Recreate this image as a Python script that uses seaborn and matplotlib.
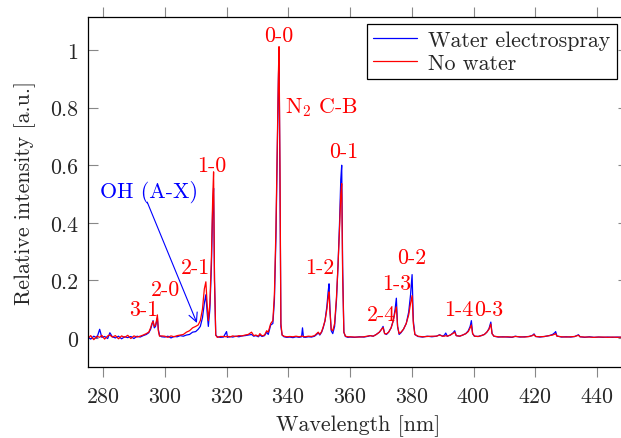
import matplotlib
matplotlib.use("Agg")
import matplotlib.pyplot as plt
import seaborn as sns
import pandas as pd
from matplotlib.ticker import FuncFormatter

## Spectrum values (wavelength in nm, relative intensity)
wavelength = [
    275, 276, 277, 278, 278.9, 279.6, 280.5, 281.5, 282.2, 283, 284, 285, 286, 287, 288, 289, 290, 291, 292, 293, 294,
    294.8, 295.4, 295.8, 296.2, 296.6, 297.0, 297.3, 297.6, 297.9, 298.3, 299,
    300, 301, 302, 303, 304, 305, 306, 307, 308, 309, 310, 310.8, 311.5, 312.2, 312.8, 313.3, 313.7, 314.1, 314.6,
    315.1, 315.5, 315.8, 316.1, 316.5, 317, 318,
    319, 320, 320.3, 321, 322, 323, 324, 325, 326, 327, 328.1, 328.8, 329.5, 330.3, 330.8, 331.5, 332.3, 333, 333.5,
    334.3, 335, 335.5, 336.0, 336.5, 336.8, 337.0, 337.3, 337.6, 338, 338.6, 339.5,
    340.5, 341.5, 342.5, 343.5, 344.3, 344.6, 344.9, 345.5, 346.5, 347.5, 348.5, 349.2, 349.7, 350.2, 350.8, 351.3,
    351.9, 352.5, 352.9, 353.2, 353.5, 353.9, 354.4, 355.0, 355.6, 356.1, 356.6, 357.0, 357.3, 357.6, 358.0, 358.5, 359.3,
    360, 361.5, 363, 364.5, 366, 366.5, 367.5, 368.5, 369.5, 370.2, 370.7, 371.2, 371.8, 372.5, 373.3, 374.0, 374.6,
    375.0, 375.4, 375.9, 376.5, 377.3, 378.2, 379.0, 379.6, 380.1, 380.5, 381.0, 382, 383.5, 385, 386.5, 388, 389,
    390, 390.6, 391.0, 391.5, 392.5, 393.4, 393.9, 394.4, 395.5, 396.5, 397.5, 398.3, 398.9, 399.3, 399.7, 400.3,
    401.5, 402.5, 403.5, 404.3, 405.0, 405.6, 406.0, 406.6, 408, 409.5,
    411, 412.5, 413.5, 415, 416.5, 418, 419.1, 419.6, 420.1, 421.5, 423, 424.5, 425.6, 426.3, 426.6, 427.0, 428.5,
    430, 431.5, 432.8, 433.6, 434.0, 434.5, 436, 437.5, 439, 440.5, 442, 443.5, 445, 446.5, 448, 450,
]

water = [
    0.005, -0.004, 0.006, 0.0, 0.03, 0.002, 0.005, -0.002, 0.018, 0.004, 0.0, 0.006, -0.003, 0.004, 0.001, 0.005, -0.002, 0.006, 0.003, 0.008, 0.012,
    0.018, 0.03, 0.045, 0.06, 0.035, 0.04, 0.055, 0.07, 0.03, 0.008, 0.004,
    0.003, 0.006, 0.0, 0.005, 0.004, 0.008, 0.006, 0.01, 0.012, 0.02, 0.022, 0.03, 0.04, 0.07, 0.12, 0.15, 0.09, 0.04, 0.1,
    0.25, 0.45, 0.52, 0.2, 0.01, 0.004, 0.002,
    0.003, 0.022, 0.002, 0.005, 0.003, 0.006, 0.004, 0.007, 0.008, 0.01, 0.012, 0.006, 0.008, 0.004, 0.01, 0.005, 0.008, 0.02, 0.012,
    0.045, 0.05, 0.13, 0.35, 0.7, 0.9, 0.99, 0.55, 0.04, 0.01, 0.004, 0.002,
    0.003, 0.001, 0.004, 0.002, 0.004, 0.035, 0.003, 0.002, 0.004, 0.003, 0.006, 0.012, 0.018, 0.01, 0.02, 0.035,
    0.06, 0.11, 0.16, 0.188, 0.1, 0.025, 0.015, 0.04, 0.13, 0.25, 0.4, 0.55, 0.6, 0.25, 0.02, 0.005, 0.002,
    0.003, 0.002, 0.004, 0.003, 0.006, 0.008, 0.006, 0.012, 0.02, 0.03, 0.04, 0.015, 0.012, 0.02, 0.035, 0.06, 0.1,
    0.138, 0.04, 0.012, 0.018, 0.03, 0.05, 0.09, 0.15, 0.22, 0.06, 0.012, 0.005, 0.003, 0.006, 0.004, 0.006, 0.011,
    0.006, 0.01, 0.017, 0.006, 0.01, 0.018, 0.025, 0.008, 0.006, 0.01, 0.015, 0.025, 0.04, 0.06, 0.015, 0.006,
    0.005, 0.008, 0.012, 0.02, 0.032, 0.055, 0.015, 0.006, 0.003, 0.004,
    0.003, 0.002, 0.006, 0.003, 0.004, 0.005, 0.009, 0.014, 0.005, 0.003, 0.005, 0.008, 0.012, 0.018, 0.022, 0.007, 0.003,
    0.004, 0.003, 0.005, 0.009, 0.011, 0.004, 0.002, 0.004, 0.002, 0.003, 0.002, 0.003, 0.002, 0.003, 0.002, 0.003,
]

no_water = [
    -0.003, 0.008, -0.006, 0.006, 0.002, 0.009, -0.004, 0.007, 0.01, 0.003, 0.008, -0.003, 0.007, 0.002, 0.009, -0.002, 0.007, 0.003, 0.006, 0.01, 0.015,
    0.02, 0.035, 0.05, 0.058, 0.04, 0.045, 0.06, 0.08, 0.025, 0.006, 0.007,
    0.006, 0.002, 0.007, 0.004, 0.008, 0.01, 0.012, 0.02, 0.025, 0.035, 0.04, 0.045, 0.06, 0.1, 0.17, 0.195, 0.12, 0.06, 0.12,
    0.28, 0.48, 0.577, 0.2, 0.01, 0.002, 0.005,
    0.005, 0.004, 0.006, 0.003, 0.007, 0.005, 0.008, 0.007, 0.01, 0.012, 0.02, 0.008, 0.01, 0.006, 0.015, 0.007, 0.01, 0.025, 0.02,
    0.05, 0.06, 0.15, 0.38, 0.73, 0.92, 1.012, 0.6, 0.05, 0.01, 0.006, 0.004,
    0.005, 0.004, 0.006, 0.004, 0.006, 0.006, 0.005, 0.004, 0.006, 0.005, 0.008, 0.015, 0.02, 0.012, 0.022, 0.038,
    0.06, 0.1, 0.14, 0.16, 0.09, 0.03, 0.025, 0.05, 0.14, 0.25, 0.38, 0.5, 0.536, 0.22, 0.02, 0.006, 0.004,
    0.004, 0.003, 0.003, 0.004, 0.007, 0.008, 0.006, 0.012, 0.02, 0.03, 0.036, 0.015, 0.014, 0.02, 0.035, 0.06, 0.09,
    0.108, 0.04, 0.015, 0.02, 0.03, 0.05, 0.08, 0.12, 0.147, 0.05, 0.012, 0.006, 0.004, 0.005, 0.006, 0.006, 0.01,
    0.006, 0.006, 0.008, 0.006, 0.01, 0.016, 0.02, 0.008, 0.006, 0.01, 0.015, 0.022, 0.035, 0.045, 0.015, 0.006,
    0.005, 0.008, 0.012, 0.02, 0.03, 0.048, 0.015, 0.006, 0.004, 0.003,
    0.004, 0.003, 0.005, 0.004, 0.003, 0.005, 0.008, 0.012, 0.005, 0.004, 0.005, 0.008, 0.01, 0.013, 0.015, 0.006, 0.004,
    0.003, 0.004, 0.005, 0.008, 0.009, 0.004, 0.003, 0.003, 0.002, 0.003, 0.003, 0.002, 0.003, 0.002, 0.003, 0.002,
]

## Band labels (vibrational transitions of N2 C-B)
band_labels = ["0-0", "1-0", "2-1", "2-0", "3-1", "0-1", "1-2", "2-4", "1-3", "0-2", "1-4", "0-3"]
band_x = [337.0, 315.2, 309.8, 300.1, 293.1, 357.9, 350.2, 370.2, 375.0, 379.9, 395.2, 404.9]
band_y = [1.052, 0.60, 0.247, 0.168, 0.10, 0.65, 0.247, 0.084, 0.19, 0.279, 0.099, 0.099]

xticks = [280, 300, 320, 340, 360, 380, 400, 420, 440]
yticks = [0, 0.2, 0.4, 0.6, 0.8, 1]

df = pd.DataFrame({"wl": wavelength, "water": water, "nowater": no_water})

sns.set_style("white")
plt.rcParams["font.family"] = ["cmr10", "DejaVu Serif"]
plt.rcParams["mathtext.fontset"] = "cm"
plt.rcParams["axes.formatter.use_mathtext"] = True
plt.rcParams["font.size"] = 15.8

fig = plt.figure(figsize=(6.21, 4.39), dpi=100)
ax = fig.add_axes([0.1411, 0.1624, 0.8700, 0.7966])

sns.lineplot(data=df, x="wl", y="water", ax=ax, color="#0000ff", lw=0.9, label="Water electrospray")
sns.lineplot(data=df, x="wl", y="nowater", ax=ax, color="#ff0000", lw=0.9, label="No water")

ax.set_xlim(275, 450)
ax.set_ylim(-0.1, 1.115)
ax.set_xticks(xticks)
ax.set_yticks(yticks)
ax.yaxis.set_major_formatter(FuncFormatter(lambda v, p: f"{v:g}"))

for s in ax.spines.values():
    s.set_color("black")
    s.set_linewidth(0.9)

ax.tick_params(axis="x", which="both", direction="out", top=True, bottom=True,
               length=7, width=0.8, color="#888888", pad=7.5, labelsize=15.8)
ax.tick_params(axis="y", which="both", direction="in", left=True, right=True,
               length=7, width=0.8, color="#888888", pad=7, labelsize=15.8)

ax.set_xlabel("Wavelength [nm]", fontsize=15.8, labelpad=5.5)
ax.set_ylabel("Relative intensity [a.u.]", fontsize=15.8, labelpad=10)

# labels of the bands
for lab, bx, by in zip(band_labels, band_x, band_y):
    ax.text(bx, by, lab, color="#ff0000", ha="center", va="center", fontsize=15.8)
ax.text(339.0, 0.805, r"N$_2$ C-B", color="#ff0000", ha="left", va="center", fontsize=15.8)

# OH band with arrow
ax.text(294.9, 0.508, "OH (A-X)", color="#0000ff", ha="center", va="center", fontsize=15.8)
ax.annotate("", xy=(310.4, 0.052), xytext=(294.3, 0.472),
            arrowprops=dict(arrowstyle="->", color="#0000ff", lw=0.8, shrinkA=0, shrinkB=0))

leg = ax.legend(loc="upper right", bbox_to_anchor=(0.98, 0.98), borderaxespad=0, fancybox=False,
                framealpha=1, edgecolor="black", handlelength=2.0, fontsize=15.8,
                borderpad=0.3, labelspacing=0.15, handletextpad=0.5)
leg.get_frame().set_linewidth(0.9)

plt.savefig("out.png", dpi=100)
